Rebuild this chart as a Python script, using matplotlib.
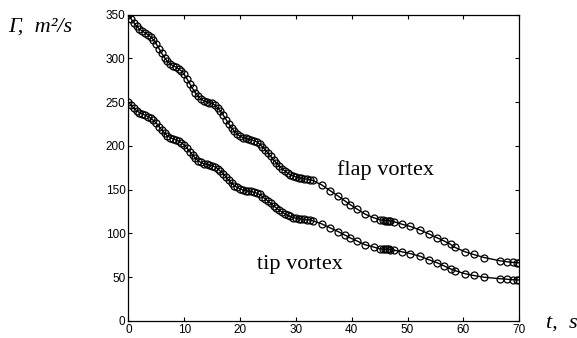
import matplotlib
matplotlib.use("Agg")
import matplotlib.pyplot as plt

# time samples (s) and circulation of both vortices (m^2/s)
t = [0.0, 0.5, 1.0, 1.5, 2.0, 2.5, 3.0, 3.5, 4.0, 4.5,
     5.0, 5.5, 6.0, 6.5, 7.0, 7.5, 8.0, 8.5, 9.0, 9.5,
     10.0, 10.5, 11.0, 11.5, 12.0, 12.5, 13.0, 13.5, 14.0, 14.5,
     15.0, 15.5, 16.0, 16.5, 17.0, 17.5, 18.0, 18.5, 19.0, 19.5,
     20.0, 20.5, 21.0, 21.5, 22.0, 22.5, 23.0, 23.5, 24.0, 24.5,
     25.0, 25.5, 26.0, 26.5, 27.0, 27.5, 28.0, 28.5, 29.0, 29.5,
     30.0, 30.5, 31.0, 31.5, 32.0, 32.5, 33.0, 34.6, 36.1, 37.6,
     38.8, 39.7, 40.9, 42.4, 43.9, 45.0, 45.6, 46.0, 46.3, 46.6,
     46.9, 47.5, 49.0, 50.5, 52.2, 53.8, 55.3, 56.5, 57.7, 58.5,
     60.3, 61.8, 63.7, 66.5, 67.8, 68.8, 69.5, 70.0]

flap = [350, 345, 340.5, 336.5, 333.5, 331, 329, 327, 324.5, 321,
        316.5, 311, 305.5, 300.5, 296.5, 293.5, 291.5, 290, 288, 285.5,
        281.5, 276.5, 271, 265.5, 260.5, 256.5, 253.5, 251.5, 250.5, 249.5,
        248.5, 246.5, 243.5, 239.5, 235, 230, 225, 220.5, 216.5, 213.5,
        211, 209.5, 208.5, 207.5, 207, 206, 204.5, 202, 199, 195.5,
        192, 188, 184, 180.5, 177, 174, 171.5, 169, 167, 165.5,
        164.5, 163.5, 163, 162.5, 162, 161.5, 160.5, 155.5, 149, 142.5,
        137, 133, 128, 122, 118, 115.8, 115, 114.7, 114.6, 114.5,
        114.3, 113.5, 110.5, 108, 104, 99.5, 95, 91.5, 87.5, 84,
        79, 76, 72.5, 68.8, 67.6, 67, 66.7, 66.5]

tip = [250, 246.5, 243, 240, 238, 236.5, 235, 233.5, 231.5, 229,
       226, 222, 218, 214.5, 211.5, 209.5, 208, 207, 205.5, 203.5,
       201, 197.5, 193.5, 189.5, 186, 183, 181, 179.5, 179, 178,
       177.5, 176, 174, 171, 168, 164.5, 160.5, 157.5, 154.5, 152.5,
       151, 149.5, 149, 148, 148, 147, 146, 144.5, 142, 139.5,
       137, 134.5, 131.5, 129, 126.5, 124.5, 122.5, 120.5, 119.5, 118,
       117.5, 117, 116.5, 116, 115.5, 115.5, 114.5, 111, 106.5, 102,
       98, 95, 91.5, 87, 84.5, 82.5, 82, 82, 82, 82,
       81.5, 81, 79, 77, 74, 70, 66.5, 63, 59.5, 57.5,
       54, 52, 50, 48.3, 47.7, 47.2, 47, 46.8]

x_ticks = [0, 10, 20, 30, 40, 50, 60, 70]
y_ticks = [0, 50, 100, 150, 200, 250, 300, 350]

serif = ["Liberation Serif", "DejaVu Serif"]

fig = plt.figure(figsize=(5.77, 3.38), dpi=100)
ax = fig.add_axes([0.2224, 0.0503, 0.6776, 0.9068])

for g in (flap, tip):
    ax.plot(t, g, color="black", lw=1.0, marker="o", ms=5,
            mfc="none", mec="black", mew=0.9)

ax.set_xlim(0, 70)
ax.set_ylim(0, 350)
ax.set_xticks(x_ticks)
ax.set_yticks(y_ticks)
ax.tick_params(direction="in", length=3, width=0.8, top=True, right=True,
               labelsize=8.5, pad=2)
for lab in ax.get_xticklabels() + ax.get_yticklabels():
    lab.set_family(["Liberation Sans", "DejaVu Sans"])
for sp in ax.spines.values():
    sp.set_linewidth(0.9)

ax.text(46.0, 172, "flap vortex", family=serif, fontsize=16,
        ha="center", va="center")
ax.text(30.7, 64, "tip vortex", family=serif, fontsize=16,
        ha="center", va="center")

fig.text(8 / 577, 1 - 27 / 338, "Γ,  m²/s", family=serif, style="italic",
         fontsize=16, ha="left", va="center")
fig.text(562 / 577, 1 - 323 / 338, "t,  s", family=serif, style="italic",
         fontsize=16, ha="center", va="center")

fig.savefig("out.png", dpi=100)
